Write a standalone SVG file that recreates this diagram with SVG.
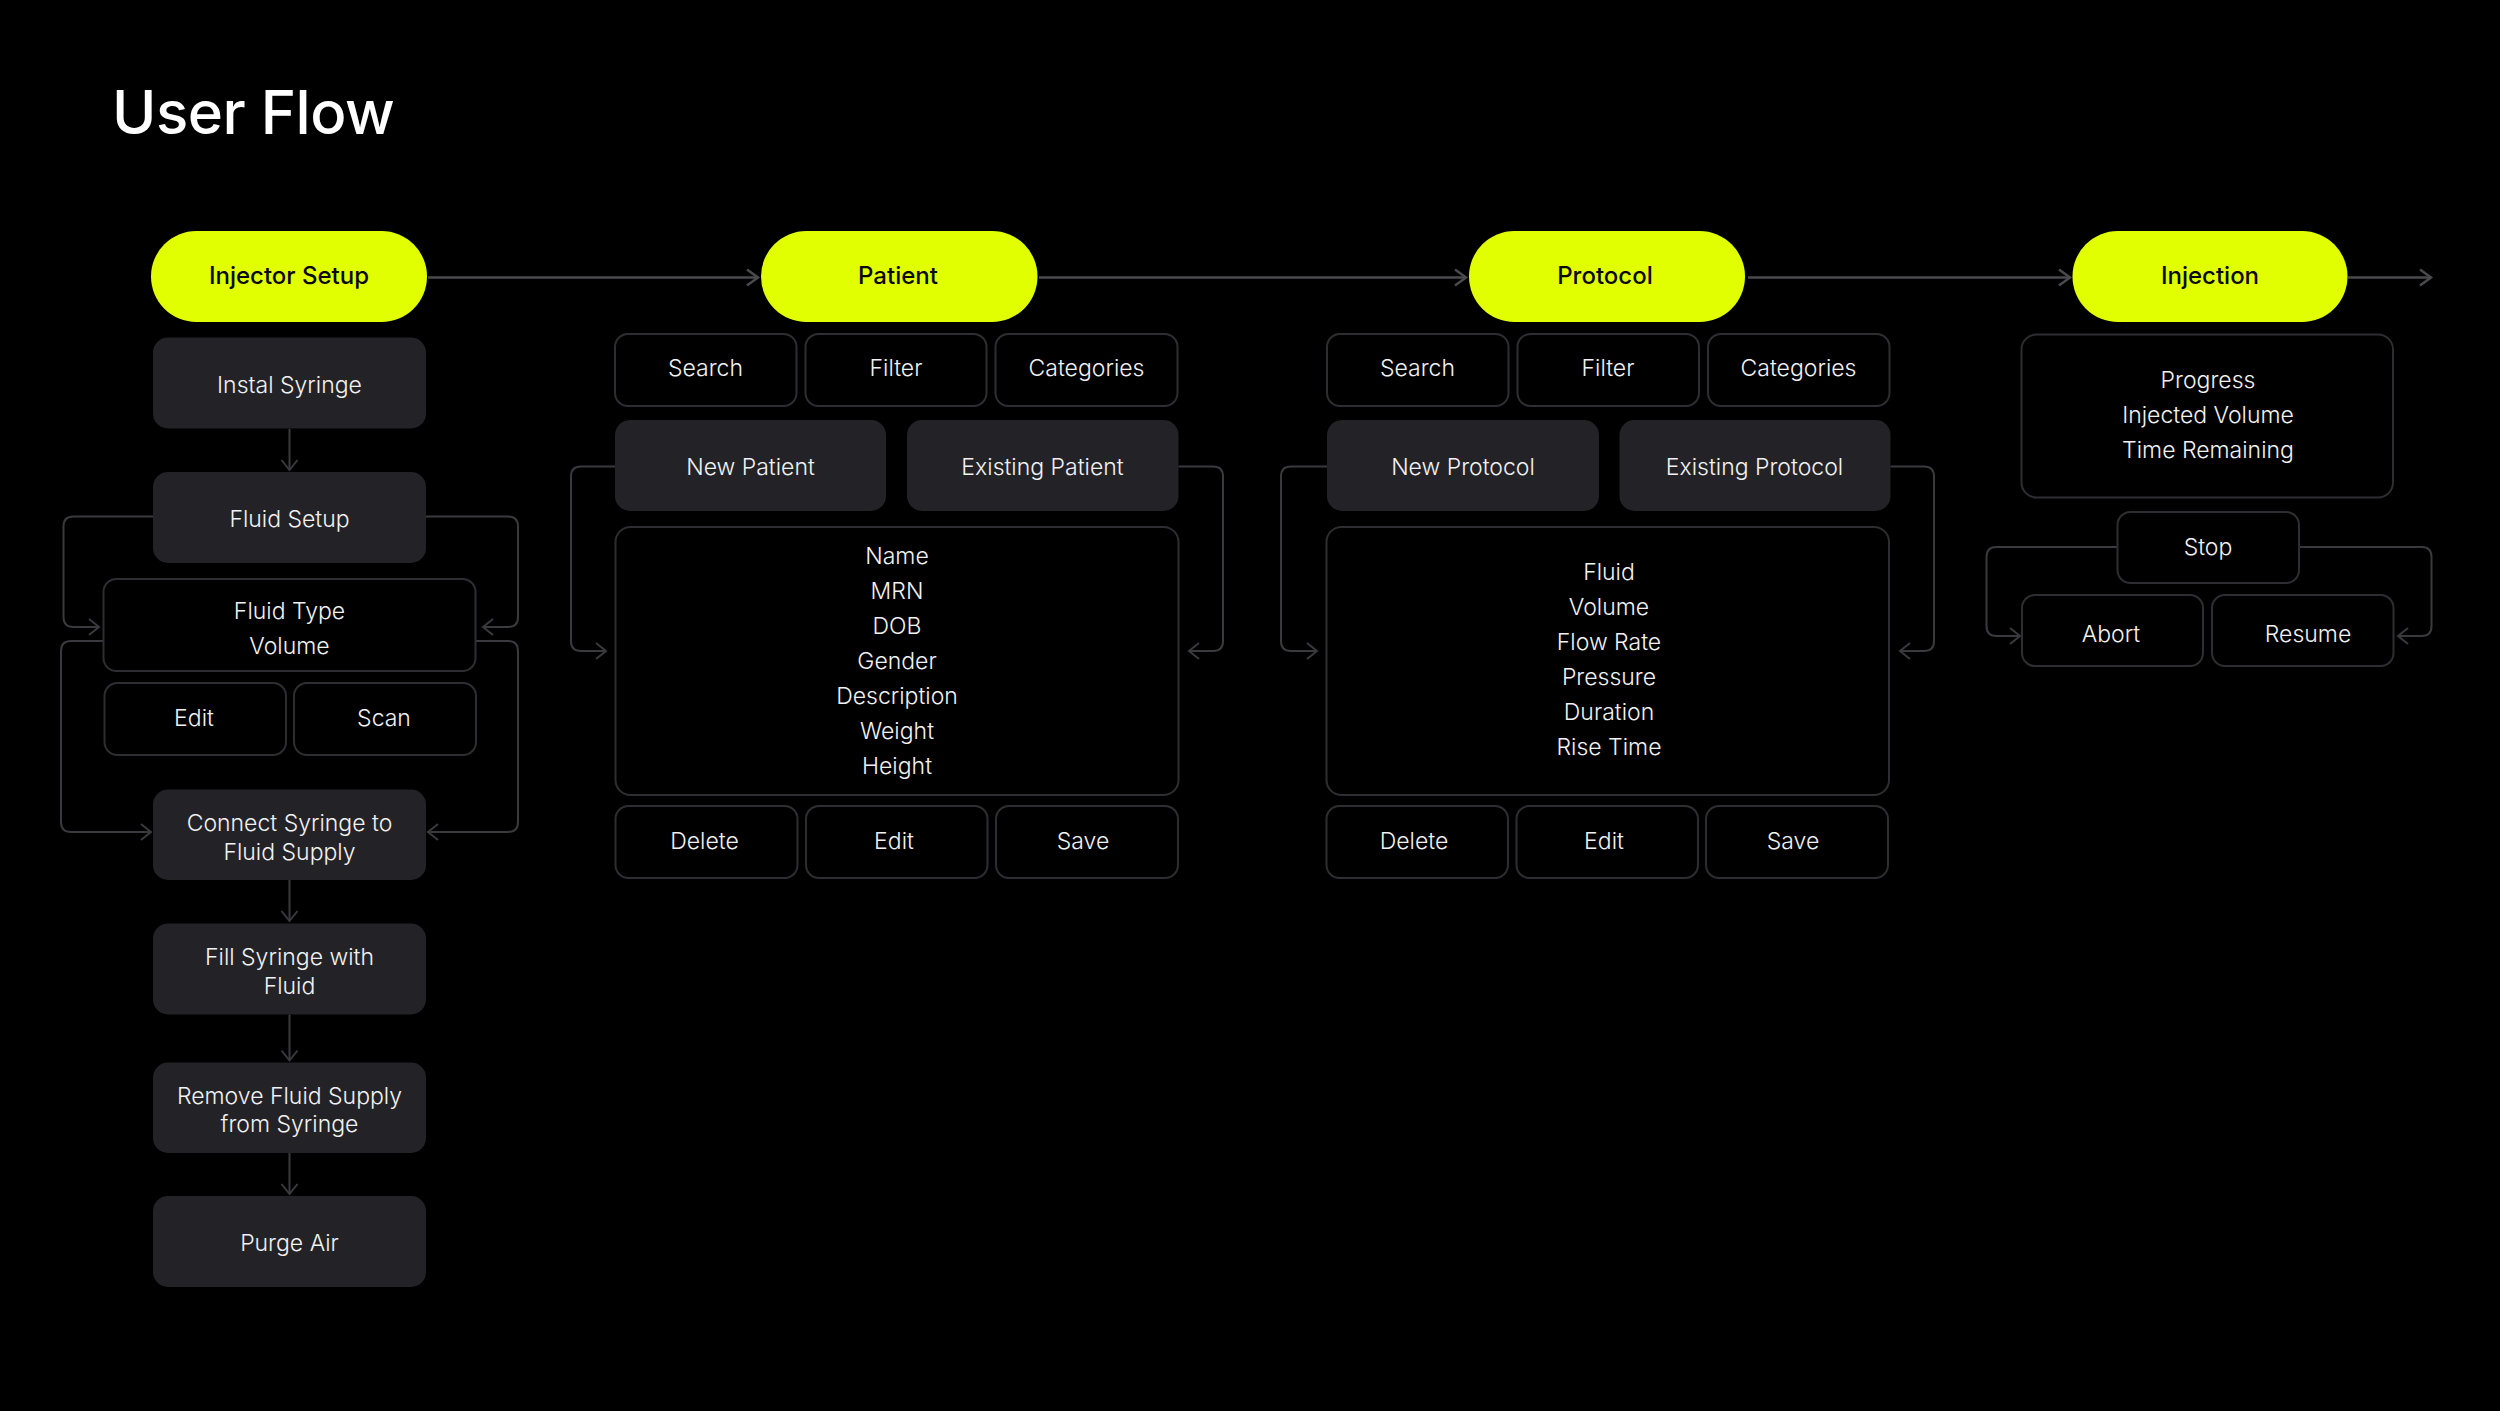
<svg xmlns="http://www.w3.org/2000/svg" width="2500" height="1411" viewBox="0 0 2500 1411">
<style>
  .bg{fill:#000}
  .pill{fill:#e1ff00}
  .fill{fill:#232327}
  .out{fill:none;stroke:#2e2e32;stroke-width:2}
  .t{font-family:Inter,"Noto Sans","Liberation Sans",sans-serif;font-size:23px;font-weight:300;fill:#f2f2f2;text-anchor:middle}
  .pt{font-family:Inter,"Noto Sans","Liberation Sans",sans-serif;font-size:24px;font-weight:500;fill:#0a0a0a;text-anchor:middle}
  .title{font-family:Inter,"Noto Sans","Liberation Sans",sans-serif;font-size:60px;font-weight:500;letter-spacing:-0.5px;fill:#ffffff}
  .flow{fill:none;stroke:#4a4a4e;stroke-width:2.5}
  .conn{fill:none;stroke:#3a3a3e;stroke-width:2}
</style>
<defs>
  <marker id="arrF" markerUnits="userSpaceOnUse" markerWidth="18" markerHeight="22" viewBox="-14 -11 18 22" refX="0" refY="0" orient="auto">
    <path d="M-11,-8 L0,0 L-11,8" fill="none" stroke="#4a4a4e" stroke-width="2.5"/>
  </marker>
  <marker id="arrC" markerUnits="userSpaceOnUse" markerWidth="18" markerHeight="22" viewBox="-14 -11 18 22" refX="0" refY="0" orient="auto">
    <path d="M-10,-8 L0,0 L-10,8" fill="none" stroke="#3a3a3e" stroke-width="2"/>
  </marker>
</defs>
<rect class="bg" x="0" y="0" width="2500" height="1411"/>
<text class="title" x="112" y="134">User Flow</text>

<g id="connectors">
  <path class="flow" d="M428 277.5 H758" marker-end="url(#arrF)"/>
  <path class="flow" d="M1039 277.5 H1466" marker-end="url(#arrF)"/>
  <path class="flow" d="M1748 277.5 H2070" marker-end="url(#arrF)"/>
  <path class="flow" d="M2348 277.5 H2431" marker-end="url(#arrF)"/>
  <path class="conn" d="M289.5 429 V470" marker-end="url(#arrC)"/>
  <path class="conn" d="M289.5 880 V921" marker-end="url(#arrC)"/>
  <path class="conn" d="M289.5 1014.5 V1060.5" marker-end="url(#arrC)"/>
  <path class="conn" d="M289.5 1153 V1194" marker-end="url(#arrC)"/>
  <path class="conn" d="M153 516.5 H73.5 Q63.5 516.5 63.5 526.5 V617 Q63.5 627 73.5 627 H99" marker-end="url(#arrC)"/>
  <path class="conn" d="M426 516.5 H508 Q518 516.5 518 526.5 V617 Q518 627 508 627 H483" marker-end="url(#arrC)"/>
  <path class="conn" d="M103 641 H71 Q61 641 61 651 V822 Q61 832 71 832 H151" marker-end="url(#arrC)"/>
  <path class="conn" d="M476 641 H508 Q518 641 518 651 V822 Q518 832 508 832 H428" marker-end="url(#arrC)"/>
  <path class="conn" d="M615 466.5 H581 Q571 466.5 571 476.5 V641 Q571 651 581 651 H606" marker-end="url(#arrC)"/>
  <path class="conn" d="M1178.5 466.5 H1213 Q1223 466.5 1223 476.5 V641 Q1223 651 1213 651 H1189" marker-end="url(#arrC)"/>
  <path class="conn" d="M1327 466.5 H1291 Q1281 466.5 1281 476.5 V641 Q1281 651 1291 651 H1317" marker-end="url(#arrC)"/>
  <path class="conn" d="M1890.5 466.5 H1924 Q1934 466.5 1934 476.5 V641 Q1934 651 1924 651 H1900" marker-end="url(#arrC)"/>
  <path class="conn" d="M2117.5 547 H1996.5 Q1986.5 547 1986.5 557 V626 Q1986.5 636 1996.5 636 H2020" marker-end="url(#arrC)"/>
  <path class="conn" d="M2299 547 H2421.5 Q2431.5 547 2431.5 557 V626 Q2431.5 636 2421.5 636 H2398" marker-end="url(#arrC)"/>
</g>

<!-- Injector Setup column -->
<g id="injector-setup"><rect class="pill" x="151" y="231" width="276" height="91" rx="45.5"/><text class="pt" x="289" y="284">Injector Setup</text></g>
<g id="instal-syringe"><rect class="fill" x="153" y="337.5" width="273" height="91" rx="15"/><text class="t" x="289.5" y="392.5">Instal Syringe</text></g>
<g id="fluid-setup"><rect class="fill" x="153" y="472" width="273" height="91" rx="15"/><text class="t" x="289.5" y="527">Fluid Setup</text></g>
<g id="fluid-type"><rect class="out" x="103.5" y="579" width="372" height="92" rx="13"/><text class="t" x="289.5" y="618.5">Fluid Type</text><text class="t" x="289.5" y="653.5">Volume</text></g>
<g id="fluid-edit"><rect class="out" x="104.5" y="683" width="181.5" height="72" rx="13"/><text class="t" x="194" y="726">Edit</text></g>
<g id="fluid-scan"><rect class="out" x="294" y="683" width="182" height="72" rx="13"/><text class="t" x="384" y="726">Scan</text></g>
<g id="connect-syringe"><rect class="fill" x="153" y="789.5" width="273" height="90.5" rx="15"/><text class="t" x="289.5" y="831">Connect Syringe to</text><text class="t" x="289.5" y="859.5">Fluid Supply</text></g>
<g id="fill-syringe"><rect class="fill" x="153" y="923.5" width="273" height="91" rx="15"/><text class="t" x="289.5" y="965">Fill Syringe with</text><text class="t" x="289.5" y="993.5">Fluid</text></g>
<g id="remove-supply"><rect class="fill" x="153" y="1062.5" width="273" height="90.5" rx="15"/><text class="t" x="289.5" y="1103.5">Remove Fluid Supply</text><text class="t" x="289.5" y="1132">from Syringe</text></g>
<g id="purge-air"><rect class="fill" x="153" y="1196" width="273" height="91" rx="15"/><text class="t" x="289.5" y="1250.5">Purge Air</text></g>

<!-- Patient column -->
<g id="patient"><rect class="pill" x="761" y="231" width="276.5" height="91" rx="45.5"/><text class="pt" x="898" y="284">Patient</text></g>
<g id="patient-search"><rect class="out" x="615" y="334" width="181.5" height="72" rx="13"/><text class="t" x="705.5" y="375.5">Search</text></g>
<g id="patient-filter"><rect class="out" x="805.5" y="334" width="181" height="72" rx="13"/><text class="t" x="896" y="375.5">Filter</text></g>
<g id="patient-categories"><rect class="out" x="995.5" y="334" width="182" height="72" rx="13"/><text class="t" x="1086.5" y="375.5">Categories</text></g>
<g id="new-patient"><rect class="fill" x="615" y="420" width="271" height="91" rx="15"/><text class="t" x="750.5" y="474.5">New Patient</text></g>
<g id="existing-patient"><rect class="fill" x="907" y="420" width="271.5" height="91" rx="15"/><text class="t" x="1042.5" y="474.5">Existing Patient</text></g>
<g id="patient-fields"><rect class="out" x="615.5" y="527" width="563" height="268" rx="15"/>
  <text class="t" x="897" y="564">Name</text><text class="t" x="897" y="599">MRN</text><text class="t" x="897" y="634">DOB</text><text class="t" x="897" y="669">Gender</text><text class="t" x="897" y="704">Description</text><text class="t" x="897" y="739">Weight</text><text class="t" x="897" y="774">Height</text></g>
<g id="patient-delete"><rect class="out" x="615.5" y="806" width="182" height="72" rx="13"/><text class="t" x="704.5" y="849">Delete</text></g>
<g id="patient-edit"><rect class="out" x="806" y="806" width="181.5" height="72" rx="13"/><text class="t" x="894" y="849">Edit</text></g>
<g id="patient-save"><rect class="out" x="996" y="806" width="182" height="72" rx="13"/><text class="t" x="1083" y="849">Save</text></g>

<!-- Protocol column -->
<g id="protocol"><rect class="pill" x="1469" y="231" width="276" height="91" rx="45.5"/><text class="pt" x="1605" y="284">Protocol</text></g>
<g id="protocol-search"><rect class="out" x="1327" y="334" width="181.5" height="72" rx="13"/><text class="t" x="1417.5" y="375.5">Search</text></g>
<g id="protocol-filter"><rect class="out" x="1517.5" y="334" width="181.5" height="72" rx="13"/><text class="t" x="1608" y="375.5">Filter</text></g>
<g id="protocol-categories"><rect class="out" x="1708" y="334" width="181.5" height="72" rx="13"/><text class="t" x="1798.5" y="375.5">Categories</text></g>
<g id="new-protocol"><rect class="fill" x="1327" y="420" width="272" height="91" rx="15"/><text class="t" x="1463" y="474.5">New Protocol</text></g>
<g id="existing-protocol"><rect class="fill" x="1619.5" y="420" width="271" height="91" rx="15"/><text class="t" x="1754.5" y="474.5">Existing Protocol</text></g>
<g id="protocol-fields"><rect class="out" x="1326.5" y="527" width="562.5" height="268" rx="15"/>
  <text class="t" x="1609" y="579.5">Fluid</text><text class="t" x="1609" y="614.5">Volume</text><text class="t" x="1609" y="649.5">Flow Rate</text><text class="t" x="1609" y="684.5">Pressure</text><text class="t" x="1609" y="719.5">Duration</text><text class="t" x="1609" y="754.5">Rise Time</text></g>
<g id="protocol-delete"><rect class="out" x="1326.5" y="806" width="181.5" height="72" rx="13"/><text class="t" x="1414" y="849">Delete</text></g>
<g id="protocol-edit"><rect class="out" x="1516.5" y="806" width="181.5" height="72" rx="13"/><text class="t" x="1604" y="849">Edit</text></g>
<g id="protocol-save"><rect class="out" x="1706" y="806" width="182" height="72" rx="13"/><text class="t" x="1793" y="849">Save</text></g>

<!-- Injection column -->
<g id="injection"><rect class="pill" x="2072.5" y="231" width="275" height="91" rx="45.5"/><text class="pt" x="2210" y="284">Injection</text></g>
<g id="injection-info"><rect class="out" x="2021.5" y="334.5" width="371.5" height="163" rx="15"/>
  <text class="t" x="2208" y="388">Progress</text><text class="t" x="2208" y="423">Injected Volume</text><text class="t" x="2208" y="458">Time Remaining</text></g>
<g id="stop"><rect class="out" x="2117.5" y="512" width="181.5" height="71" rx="13"/><text class="t" x="2208" y="555">Stop</text></g>
<g id="abort"><rect class="out" x="2022" y="595" width="181" height="71" rx="13"/><text class="t" x="2111" y="641.5">Abort</text></g>
<g id="resume"><rect class="out" x="2212" y="595" width="181.5" height="71" rx="13"/><text class="t" x="2308" y="641.5">Resume</text></g>
</svg>
